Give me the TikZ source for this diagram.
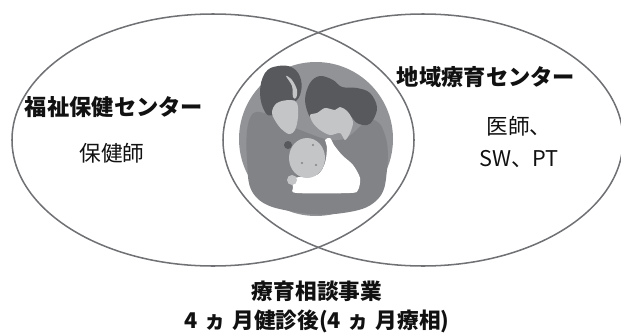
\documentclass[tikz,border=0pt]{standalone}
\usepackage{fontspec}
\newfontfamily\jp{Noto Sans CJK JP}
\newcommand{\kasep}[1]{\hspace{0.3em}#1\hspace{0.3em}}
\begin{document}
\begin{tikzpicture}[x=0.03cm,y=-0.03cm,
  ring/.style={draw=ringgray,line width=1.3pt},
  head/.style={font=\jp\bfseries\fontsize{19}{23}\selectfont,text=ink,inner sep=0pt},
  staff/.style={font=\jp\fontsize{18.5}{28}\selectfont,text=ink,inner sep=0pt,align=center},
  caption/.style={font=\jp\bfseries\fontsize{18.5}{25}\selectfont,text=ink,inner sep=0pt,align=center}]
\definecolor{ringgray}{HTML}{707174}
\definecolor{ink}{HTML}{111111}
\definecolor{disc}{HTML}{929396}
\definecolor{bodyg}{HTML}{828387}
\definecolor{hair}{HTML}{58595C}
\definecolor{skin}{HTML}{C4C5C7}
\useasboundingbox (0,0) rectangle (621,335);

% family illustration in the overlap
\fill[disc] (316,139) circle (77);
\fill[bodyg] plot[smooth cycle,tension=0.7] coordinates {
  (250,118) (268,114) (300,130) (340,140) (370,120) (385,135)
  (387,170) (377,200) (343,213) (295,212) (256,197) (247,160)};
% left parent
\fill[hair] plot[smooth cycle,tension=0.7] coordinates {
  (260,93) (265,73) (278,66) (293,68) (301,80) (300,95)
  (293,103) (282,108) (273,115) (265,112)};
\fill[skin] plot[smooth cycle,tension=0.6] coordinates {
  (272,113) (277,103) (290,100) (297,103) (298,117) (295,130)
  (290,134) (285,132) (278,125)};
\fill[skin] plot[smooth cycle,tension=0.6] coordinates {
  (286,76) (292,80) (297,90) (296,98) (293,97) (292,86)};
% right parent
\fill[hair] plot[smooth cycle,tension=0.6] coordinates {
  (305,100) (310,83) (320,76) (333,80) (342,87) (357,88) (370,93)
  (377,107) (373,120) (367,125) (357,123) (350,115) (343,108)
  (333,112) (325,110) (317,115) (310,117)};
\fill[skin] plot[smooth cycle,tension=0.5] coordinates {
  (310,115) (317,113) (325,108) (335,110) (340,107) (348,112)
  (353,122) (350,133) (345,140) (340,133) (330,135) (320,130) (313,123)};
% baby
\fill[hair] (288,145) circle (4);
\fill[white] plot[smooth cycle,tension=0.5] coordinates {
  (295,178) (317,175) (325,163) (327,147) (325,140) (330,138)
  (334,145) (342,155) (353,165) (360,178) (358,190) (350,193)
  (297,193) (293,188)};
\fill[skin] (307,158) ellipse (18 and 20);
\fill[skin] (292,180) circle (5);
\fill[bodyg] (313,145) circle (1.2) (302,163) circle (1.2) (316,165) circle (1.2);

% the two circles
\draw[ring] (213,140) ellipse (201 and 126);
\draw[ring] (423,140) ellipse (200 and 126);

% labels
\node[head] (welfare) at (114,107) {福祉保健センター};
\node[staff] (nurse) at (112,153) {保健師};
\node[head] (center) at (486,77) {地域療育センター};
\node[staff] (staffR) at (519,142) {医師、\\SW、PT};
\node[caption] (program) at (317,307) {療育相談事業\\4\kasep{ヵ}月健診後(4\kasep{ヵ}月療相)};
\end{tikzpicture}
\end{document}
